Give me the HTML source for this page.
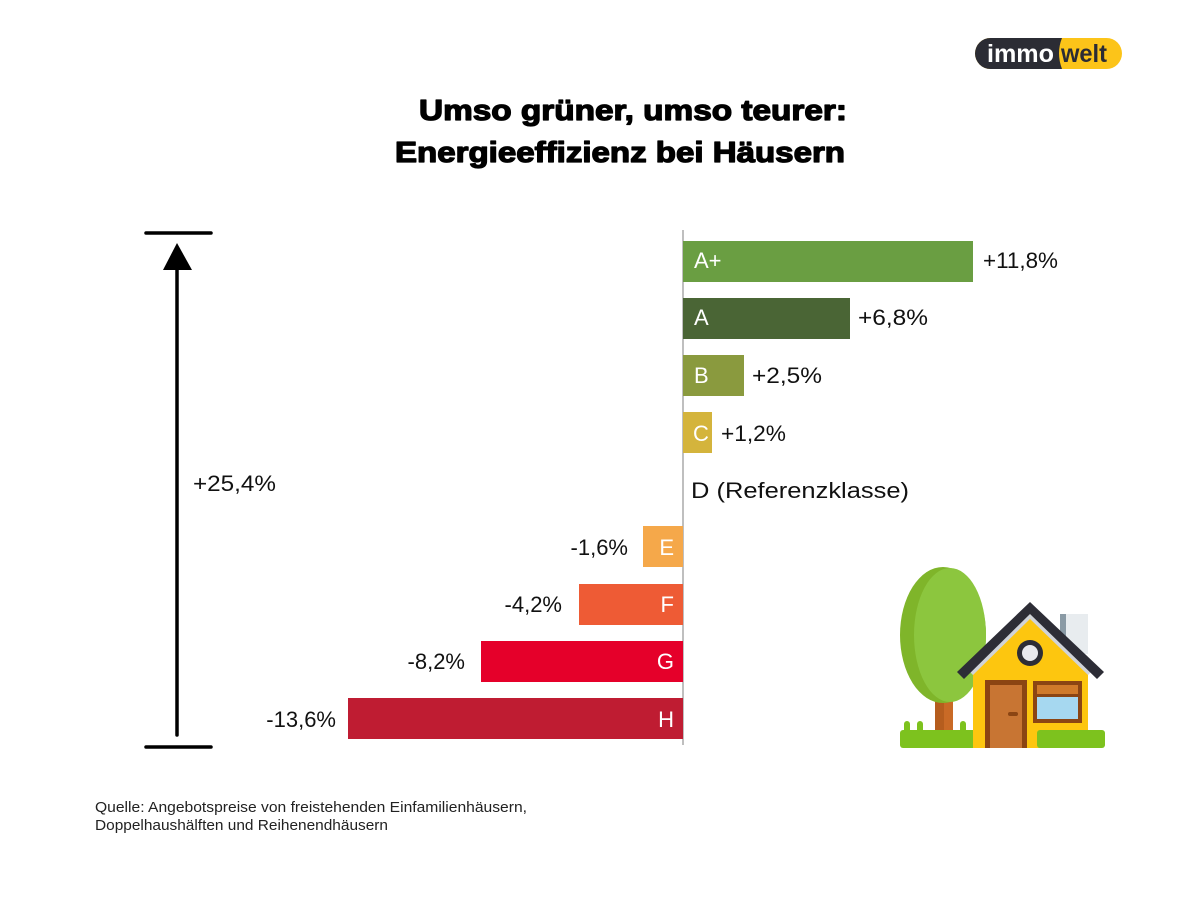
<!DOCTYPE html>
<html>
<head>
<meta charset="utf-8">
<style>
html,body{margin:0;padding:0;background:#fff;}
svg{display:block;}
text{font-family:"Liberation Sans",Arial,sans-serif;}
</style>
</head>
<body>
<svg width="1200" height="900" viewBox="0 0 1200 900" xmlns="http://www.w3.org/2000/svg">
<rect width="1200" height="900" fill="#fff"/>

<!-- Logo -->
<rect x="975" y="38" width="147" height="31" rx="15.5" fill="#fcc419"/>
<path d="M990.5,38 H1062 Q1056,53 1062,69 H990.5 A15.5,15.5 0 0 1 990.5,38 Z" fill="#2b2c34"/>
<text x="987" y="62" font-size="25" font-weight="bold" fill="#fff" textLength="67" lengthAdjust="spacingAndGlyphs">immo</text>
<text x="1061" y="62" font-size="25" font-weight="bold" fill="#2b2c34" textLength="46" lengthAdjust="spacingAndGlyphs">welt</text>

<!-- Title -->
<text x="419" y="120" font-size="29" font-weight="bold" fill="#000" stroke="#000" stroke-width="1.3" stroke-linejoin="round" textLength="428" lengthAdjust="spacingAndGlyphs">Umso grüner, umso teurer:</text>
<text x="395" y="162" font-size="29" font-weight="bold" fill="#000" stroke="#000" stroke-width="1.3" stroke-linejoin="round" textLength="450" lengthAdjust="spacingAndGlyphs">Energieeffizienz bei Häusern</text>

<!-- Range arrow -->
<line x1="146" y1="233" x2="211" y2="233" stroke="#000" stroke-width="3.5" stroke-linecap="round"/>
<line x1="146" y1="747" x2="211" y2="747" stroke="#000" stroke-width="3.5" stroke-linecap="round"/>
<line x1="177" y1="265" x2="177" y2="735" stroke="#000" stroke-width="3.5" stroke-linecap="round"/>
<polygon points="177,243 163,270 192,270" fill="#000"/>
<text x="193" y="491" font-size="22" fill="#111" textLength="83" lengthAdjust="spacingAndGlyphs">+25,4%</text>

<!-- Axis -->
<line x1="683" y1="230" x2="683" y2="745" stroke="#aaaaaa" stroke-width="1.5"/>

<!-- Positive bars -->
<rect x="683" y="241" width="290" height="41" fill="#6a9e42"/>
<rect x="683" y="298" width="167" height="41" fill="#4a6535"/>
<rect x="683" y="355" width="61" height="41" fill="#8a9a3e"/>
<rect x="683" y="412" width="29" height="41" fill="#d4b43c"/>

<text x="694" y="268" font-size="22" fill="#fff">A+</text>
<text x="694" y="325" font-size="22" fill="#fff">A</text>
<text x="694" y="383" font-size="22" fill="#fff">B</text>
<text x="693" y="441" font-size="22" fill="#fff">C</text>

<text x="983" y="268" font-size="22" fill="#111" textLength="75" lengthAdjust="spacingAndGlyphs">+11,8%</text>
<text x="858" y="325" font-size="22" fill="#111" textLength="70" lengthAdjust="spacingAndGlyphs">+6,8%</text>
<text x="752" y="383" font-size="22" fill="#111" textLength="70" lengthAdjust="spacingAndGlyphs">+2,5%</text>
<text x="721" y="441" font-size="22" fill="#111" textLength="65" lengthAdjust="spacingAndGlyphs">+1,2%</text>

<text x="691" y="498" font-size="22" fill="#111" textLength="218" lengthAdjust="spacingAndGlyphs">D (Referenzklasse)</text>

<!-- Negative bars -->
<rect x="643" y="526" width="40" height="41" fill="#f5a84a"/>
<rect x="579" y="584" width="104" height="41" fill="#ee5b35"/>
<rect x="481" y="641" width="202" height="41" fill="#e5002a"/>
<rect x="348" y="698" width="335" height="41" fill="#bf1c32"/>

<text x="674" y="555" font-size="22" fill="#fff" text-anchor="end">E</text>
<text x="674" y="612" font-size="22" fill="#fff" text-anchor="end">F</text>
<text x="674" y="669" font-size="22" fill="#fff" text-anchor="end">G</text>
<text x="674" y="727" font-size="22" fill="#fff" text-anchor="end">H</text>

<text x="628" y="555" font-size="22" fill="#111" text-anchor="end">-1,6%</text>
<text x="562" y="612" font-size="22" fill="#111" text-anchor="end">-4,2%</text>
<text x="465" y="669" font-size="22" fill="#111" text-anchor="end">-8,2%</text>
<text x="336" y="727" font-size="22" fill="#111" text-anchor="end">-13,6%</text>

<!-- Footer -->
<text x="95" y="812" font-size="15" fill="#222" textLength="432" lengthAdjust="spacingAndGlyphs">Quelle: Angebotspreise von freistehenden Einfamilienhäusern,</text>
<text x="95" y="830" font-size="15" fill="#222" textLength="293" lengthAdjust="spacingAndGlyphs">Doppelhaushälften und Reihenendhäusern</text>

<!-- House illustration -->
<rect x="935" y="695" width="18" height="45" fill="#b55d1e"/>
<rect x="944" y="695" width="9" height="45" fill="#c96a26"/>
<ellipse cx="943" cy="635" rx="43" ry="68" fill="#7fb52a"/>
<ellipse cx="950" cy="635" rx="36" ry="67" fill="#8cc63e"/>
<rect x="900" y="730" width="78" height="18" rx="3" fill="#7dc21e"/>
<rect x="904" y="721" width="6" height="14" rx="3" fill="#7dc21e"/>
<rect x="917" y="721" width="6" height="14" rx="3" fill="#7dc21e"/>
<rect x="960" y="721" width="6" height="14" rx="3" fill="#7dc21e"/>
<rect x="1060" y="614" width="28" height="40" fill="#e8ecef"/>
<rect x="1060" y="614" width="6" height="40" fill="#8a9aa5"/>
<polygon points="973,670 1030,614 1088,670 1088,748 973,748" fill="#fdc60f"/>
<polygon points="966,668 1030,606 1095,668 1088,675 1030,619 973,675" fill="#d0d3d8"/>
<polygon points="957,672 1030,602 1104,672 1097,679 1030,614 964,679" fill="#2d2d36"/>
<circle cx="1030" cy="653" r="13" fill="#2d2d36"/>
<circle cx="1030" cy="653" r="8" fill="#e9e9ee"/>
<rect x="985" y="680" width="42" height="68" fill="#8b4513"/>
<rect x="990" y="685" width="32" height="63" fill="#c87533"/>
<rect x="1008" y="712" width="10" height="4" rx="2" fill="#8b4513"/>
<rect x="1033" y="681" width="49" height="42" fill="#8b4513"/>
<rect x="1037" y="685" width="41" height="9" fill="#d07a2a"/>
<rect x="1037" y="697" width="41" height="22" fill="#a6d8f0"/>
<rect x="1037" y="730" width="68" height="18" rx="3" fill="#7dc21e"/>
</svg>
</body>
</html>
